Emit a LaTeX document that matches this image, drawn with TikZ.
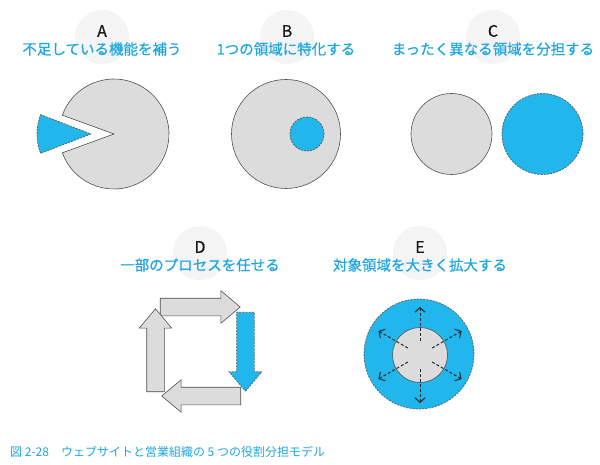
\documentclass[tikz,border=0pt]{standalone}
\usepackage{fontspec}
\setmainfont{Noto Sans CJK JP}[BoldFont=Noto Sans CJK JP, BoldFeatures={FakeBold=0.6}]
\usetikzlibrary{shapes.arrows,arrows.meta,patterns}
\definecolor{areagray}{HTML}{DCDCDC}
\definecolor{edgegray}{HTML}{505050}
\definecolor{areablue}{HTML}{21B6EC}
\definecolor{titleblue}{HTML}{1EA6E0}
\tikzstyle{badge} = [circle, minimum size=54pt, inner sep=0pt, fill=black!6, postaction={pattern=north east lines, pattern color=white}]
\tikzstyle{letter} = [font=\bfseries\fontsize{16}{16}\selectfont, text=black!90, inner sep=0pt]
\tikzstyle{title} = [font=\bfseries\fontsize{14.5}{15}\selectfont, text=titleblue, inner sep=0pt]
\tikzstyle{areafill} = [fill=areagray, draw=edgegray, line width=0.6pt]
\tikzstyle{ownarea} = [circle, inner sep=0pt, areafill]
\tikzstyle{partner} = [fill=areablue, draw=black!65, line width=0.7pt, dash pattern=on 2pt off 1.2pt]
\tikzstyle{flow} = [single arrow, inner xsep=0pt, inner ysep=8.5pt, single arrow head extend=7.5pt, single arrow tip angle=80]
\tikzstyle{spread} = [black!85, line width=1pt, dash pattern=on 3pt off 2pt, -{Straight Barb[length=4.5pt,width=10pt]}]

\begin{document}
\begin{tikzpicture}[x=1pt, y=-1pt]
\useasboundingbox (0,0) rectangle (600,465);

% A
\node (badgeA) [badge] at (102,37) {};
\node (letterA) [letter] at (102,31) {A};
\node (titleA) [title] at (102,49) {不足している機能を補う};
\coordinate (pacA) at (114,134);
\coordinate (gapA) at (91,134);
\draw [areafill] (pacA) -- ++(160:55) arc[start angle=160, end angle=-160, radius=55] -- cycle;
\draw [partner] (gapA) -- ++(159:54) arc[start angle=159, end angle=201, radius=54] -- cycle;

% B
\node (badgeB) [badge] at (287,37) {};
\node (letterB) [letter] at (287,31) {B};
\node (titleB) [title] at (286,49) {1つの領域に特化する};
\node (ownB) [ownarea, minimum size=109pt] at (286,134) {};
\node (nicheB) [partner, circle, inner sep=0pt, minimum size=34pt] at (307,134) {};

% C
\node (badgeC) [badge] at (493,37) {};
\node (letterC) [letter] at (493,31) {C};
\node (titleC) [title] at (493,49) {まったく異なる領域を分担する};
\node (ownC) [ownarea, minimum size=81pt] at (451.5,134) {};
\node (otherC) [partner, circle, inner sep=0pt, minimum size=81pt] at (542.5,134) {};

% D
\node (badgeD) [badge] at (200,253) {};
\node (letterD) [letter] at (200,247) {D};
\node (titleD) [title] at (200,265) {一部のプロセスを任せる};
\node (stepTop) [flow, areafill, minimum height=80pt] at (195,307) {};
\node (stepRight) [flow, partner, minimum height=79pt, rotate=-90] at (245.5,346.5) {};
\node (stepBottom) [flow, areafill, minimum height=79pt, rotate=180] at (206.5,396) {};
\node (stepLeft) [flow, areafill, minimum height=83pt, rotate=90] at (155.5,355.5) {};

% E
\node (badgeE) [badge] at (420,253) {};
\node (letterE) [letter] at (420,247) {E};
\node (titleE) [title] at (420,265) {対象領域を大きく拡大する};
\node (fieldE) [partner, circle, inner sep=0pt, minimum size=110pt] at (419,354) {};
\node (coreE) [ownarea, minimum size=55pt] at (420,355) {};

% Arrows
\foreach \a in {30,90,...,330} {
  \path (coreE.center) ++(\a:14) coordinate (from\a) ++(\a:34) coordinate (to\a);
  \draw [spread] (from\a) -- (to\a);
}

% caption
\node (caption) [anchor=west, inner sep=0pt, text=titleblue, font=\fontsize{12}{12}\selectfont] at (10,452) {図 2-28　ウェブサイトと営業組織の 5 つの役割分担モデル};

\end{tikzpicture}
\end{document}
